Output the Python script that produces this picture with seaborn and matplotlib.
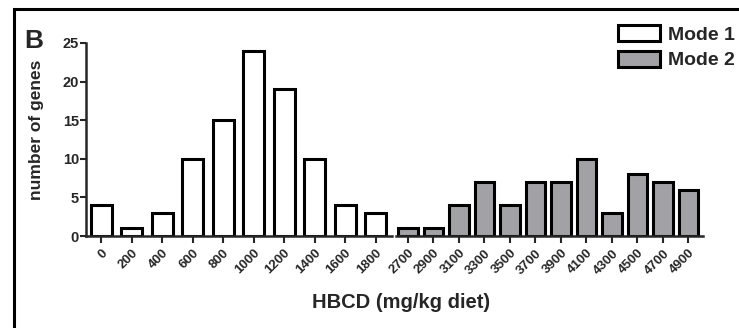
import matplotlib
matplotlib.use("Agg")
import matplotlib.pyplot as plt
import seaborn as sns
from matplotlib.patches import Rectangle, Patch

sns.set_style("ticks")
plt.rcParams['font.family'] = ['Liberation Sans', 'DejaVu Sans']
plt.rcParams['font.weight'] = 'bold'

mode1_labels = ["0", "200", "400", "600", "800", "1000", "1200", "1400", "1600", "1800"]
mode1_values = [4, 1, 3, 10, 15, 24, 19, 10, 4, 3]
mode2_labels = ["2700", "2900", "3100", "3300", "3500", "3700", "3900", "4100",
                "4300", "4500", "4700", "4900"]
mode2_values = [1, 1, 4, 7, 4, 7, 7, 10, 3, 8, 7, 6]
yticks = [0, 5, 10, 15, 20, 25]

W, H = 739, 328
fig = plt.figure(figsize=(W / 100, H / 100), dpi=100)

def frac(x0, y_bottom, w, h):
    return [x0 / W, 1 - y_bottom / H, w / W, h / H]

ax1 = fig.add_axes(frac(86, 236, 306, 193))
ax2 = fig.add_axes(frac(396, 236, 307, 193))

gray = "#a2a1a6"
sns.barplot(x=mode1_labels, y=mode1_values, order=mode1_labels, ax=ax1,
            color="white", edgecolor="black", linewidth=2.2, width=0.69, saturation=1)
sns.barplot(x=mode2_labels, y=mode2_values, order=mode2_labels, ax=ax2,
            color=gray, edgecolor="black", linewidth=2.2, width=0.75, saturation=1)

ax1.set_xlim(-0.5, 9.54)
ax2.set_xlim(-0.47, 11.57)
for ax in (ax1, ax2):
    ax.set_ylim(0, 25)
    ax.set_facecolor("none")
    ax.set_xlabel("")
    ax.set_ylabel("")
    for s in ("top", "right"):
        ax.spines[s].set_visible(False)
    ax.spines["bottom"].set_linewidth(1.8)
    ax.spines["left"].set_linewidth(1.8)
    ax.tick_params(axis="x", direction="out", length=5, width=1.5, pad=3)
    ax.tick_params(axis="y", direction="out", length=4, width=1.5, pad=1)
    plt.setp(ax.get_xticklabels(), rotation=45, ha="right", rotation_mode="anchor",
             fontsize=9.5, fontweight="bold")

ax1.set_yticks(yticks)
ax1.set_yticklabels([str(v) for v in yticks], fontsize=10.5, fontweight="bold")
ax2.spines["left"].set_visible(False)
ax2.set_yticks([])

fig.text(37 / W, 1 - 130 / H, "number of genes", rotation=90, ha="center", va="center",
         fontsize=12.5, fontweight="bold")
fig.text(401 / W, 1 - 303 / H, "HBCD (mg/kg diet)", ha="center", va="center",
         fontsize=14.5, fontweight="bold")
fig.text(24 / W, 1 - 41 / H, "B", ha="left", va="center", fontsize=19, fontweight="bold")

# outer frame
fig.patches.append(Rectangle((14 / W, -0.1), 1.0, 1 - 9 / H + 0.1, transform=fig.transFigure,
                             fill=False, edgecolor="black", linewidth=2.2))

handles = [Patch(facecolor="white", edgecolor="black", linewidth=2.2, label="Mode 1"),
           Patch(facecolor=gray, edgecolor="black", linewidth=2.2, label="Mode 2")]
fig.legend(handles=handles, loc="upper left", bbox_to_anchor=(616 / W, 1 - 23 / H),
           frameon=False, prop={"size": 14, "weight": "bold"}, handlelength=2.15,
           handleheight=0.9, handletextpad=0.4, labelspacing=0.35, borderpad=0.1,
           borderaxespad=0)

fig.savefig("out.png", dpi=100)
